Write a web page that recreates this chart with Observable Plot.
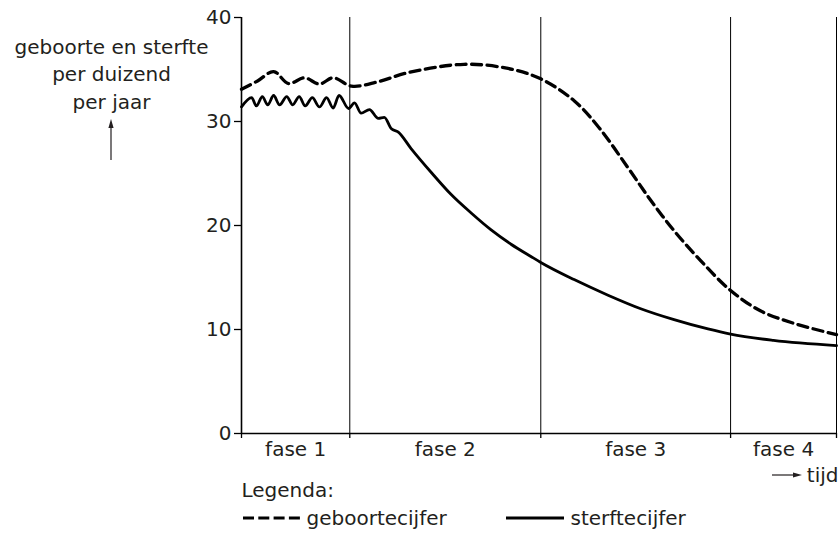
<!DOCTYPE html>
<html><head><meta charset="utf-8">
<script src="https://cdn.jsdelivr.net/npm/d3@7"></script>
<script src="https://cdn.jsdelivr.net/npm/@observablehq/plot@0.6"></script>
<style>html,body{margin:0;padding:0;background:#fff}svg{display:block}</style>
</head><body><div id="chart"></div>
<script>
// --- data ---
const phaseBounds = [0, 18.2, 50.3, 82.2, 100];
const phaseLabels = ["fase 1", "fase 2", "fase 3", "fase 4"];
const yTicks = [0, 10, 20, 30, 40];
const yLabel = "geboorte en sterfte\nper duizend\nper jaar";
const xLabel = "tijd";
const legendTitle = "Legenda:";
const legendLabels = ["geboortecijfer", "sterftecijfer"];

// geboortecijfer (dashed)
const birthT = [0, 2.7, 5.4, 7.9, 10.6, 13.1, 15.4, 18.5, 22.8, 28.0, 37.4, 44.8, 50.3, 55.9, 60.1, 64.9, 68.8, 72.7, 77.2, 82.2, 87.2, 92.8, 100];
const birthV = [33.1, 33.9, 34.8, 33.65, 34.2, 33.6, 34.2, 33.4, 33.8, 34.7, 35.5, 35.1, 34.1, 32.0, 29.4, 25.6, 22.4, 19.5, 16.6, 13.75, 11.8, 10.6, 9.5];

// sterftecijfer (solid)
const deathT = [0, 1.7, 2.5, 3.5, 4.4, 5.4, 6.4, 7.6, 8.6, 9.7, 10.7, 11.9, 13.1, 14.3, 15.4, 16.4, 18.0, 19.0, 20.1, 21.5, 23.0, 24.0, 25.2, 26.3, 28.5, 31.9, 35.2, 38.6, 41.9, 45.3, 48.7, 50.3, 55.9, 61.6, 67.1, 72.7, 78.4, 82.2, 89.4, 100];
const deathV = [31.4, 32.3, 31.5, 32.4, 31.6, 32.5, 31.6, 32.4, 31.6, 32.4, 31.5, 32.3, 31.4, 32.3, 31.3, 32.5, 31.25, 31.8, 30.8, 31.15, 30.3, 30.4, 29.3, 29.0, 27.4, 25.1, 23.0, 21.2, 19.6, 18.2, 17.0, 16.45, 14.8, 13.3, 12.0, 10.95, 10.05, 9.55, 8.95, 8.45];

// --- derived tables ---
const birth = birthT.map((t, i) => ({t, v: birthV[i]}));
const death = deathT.map((t, i) => ({t, v: deathV[i]}));
const phases = phaseLabels.map((label, i) => ({label, t: (phaseBounds[i] + phaseBounds[i + 1]) / 2}));

const INK = "#231f20";
const FONT = "DejaVu Sans, Liberation Sans, Arial, sans-serif";

// annotation arrows and legend swatches, placed relative to the frame
function annotations(index, scales, values, dims) {
  const g = d3.create("svg:g");
  const x0 = dims.marginLeft, x1 = dims.width - dims.marginRight;
  const yTop = dims.marginTop, yb = dims.height - dims.marginBottom;
  // arrow under the y label
  const ax = x0 - 130;
  g.append("line").attr("x1", ax).attr("x2", ax).attr("y1", yTop + 143).attr("y2", yTop + 110)
    .attr("stroke", INK).attr("stroke-width", 1.2);
  g.append("path").attr("d", `M${ax},${yTop + 102}L${ax - 2.6},${yTop + 111}L${ax + 2.6},${yTop + 111}Z`).attr("fill", INK);
  // arrow before "tijd"
  const ty = yb + 42;
  g.append("line").attr("x1", x1 - 64).attr("x2", x1 - 42).attr("y1", ty).attr("y2", ty)
    .attr("stroke", INK).attr("stroke-width", 1.2);
  g.append("path").attr("d", `M${x1 - 34},${ty}L${x1 - 43},${ty - 2.6}L${x1 - 43},${ty + 2.6}Z`).attr("fill", INK);
  // legend swatches
  const ly = yb + 85;
  g.append("line").attr("x1", x0 + 2).attr("x2", x0 + 59).attr("y1", ly).attr("y2", ly)
    .attr("stroke", "#000").attr("stroke-width", 3).attr("stroke-dasharray", "11,4.3");
  g.append("line").attr("x1", x0 + 265).attr("x2", x0 + 323).attr("y1", ly).attr("y2", ly)
    .attr("stroke", "#000").attr("stroke-width", 3);
  return g.node();
}

const chart = Plot.plot({
  width: 840,
  height: 534,
  marginLeft: 241,
  marginRight: 4,
  marginTop: 17,
  marginBottom: 101,
  style: {fontFamily: FONT, fontSize: "20px", color: INK, background: "#fff", overflow: "visible"},
  x: {domain: [0, 100], axis: null},
  y: {domain: [0, 40], axis: null},
  marks: [
    // phase separators
    Plot.ruleX(phaseBounds.slice(1), {stroke: "#000", strokeWidth: 1}),
    // axes lines
    Plot.ruleX([0], {stroke: "#000", strokeWidth: 1.6}),
    Plot.ruleY([0], {stroke: "#000", strokeWidth: 1.6}),
    Plot.axisY({ticks: yTicks, tickSize: 7, tickPadding: 3, fontSize: 20, stroke: "#000", strokeWidth: 1.3, fill: INK, label: null}),
    Plot.axisX({ticks: phaseBounds, tickSize: 5, tickFormat: () => "", stroke: "#000", strokeWidth: 1.3, label: null}),
    // series
    Plot.line(birth, {x: "t", y: "v", curve: "catmull-rom", stroke: "#000", strokeWidth: 3.3, strokeDasharray: "10,5.5"}),
    Plot.line(death, {x: "t", y: "v", curve: "monotone-x", stroke: "#000", strokeWidth: 2.8}),
    // phase labels
    Plot.text(phases, {x: "t", y: () => 0, text: "label", dy: 22, lineAnchor: "bottom", fontSize: 20, fill: INK}),
    // y label
    Plot.text([yLabel], {text: d => d, frameAnchor: "top-left", dx: -130, dy: 91, textAnchor: "middle", lineAnchor: "bottom", lineHeight: 1.375, fontSize: 20, fill: INK}),
    // x label
    Plot.text([xLabel], {text: d => d, frameAnchor: "bottom-right", dx: 2, dy: 48, textAnchor: "end", lineAnchor: "bottom", fontSize: 20, fill: INK}),
    // legend
    Plot.text([legendTitle], {text: d => d, frameAnchor: "bottom-left", dx: 0, dy: 63, textAnchor: "start", lineAnchor: "bottom", fontSize: 20, fill: INK}),
    Plot.text([legendLabels[0]], {text: d => d, frameAnchor: "bottom-left", dx: 65, dy: 91, textAnchor: "start", lineAnchor: "bottom", fontSize: 20, fill: INK}),
    Plot.text([legendLabels[1]], {text: d => d, frameAnchor: "bottom-left", dx: 329, dy: 91, textAnchor: "start", lineAnchor: "bottom", fontSize: 20, fill: INK}),
    annotations
  ]
});
document.getElementById("chart").append(chart);
</script>
</body></html>
